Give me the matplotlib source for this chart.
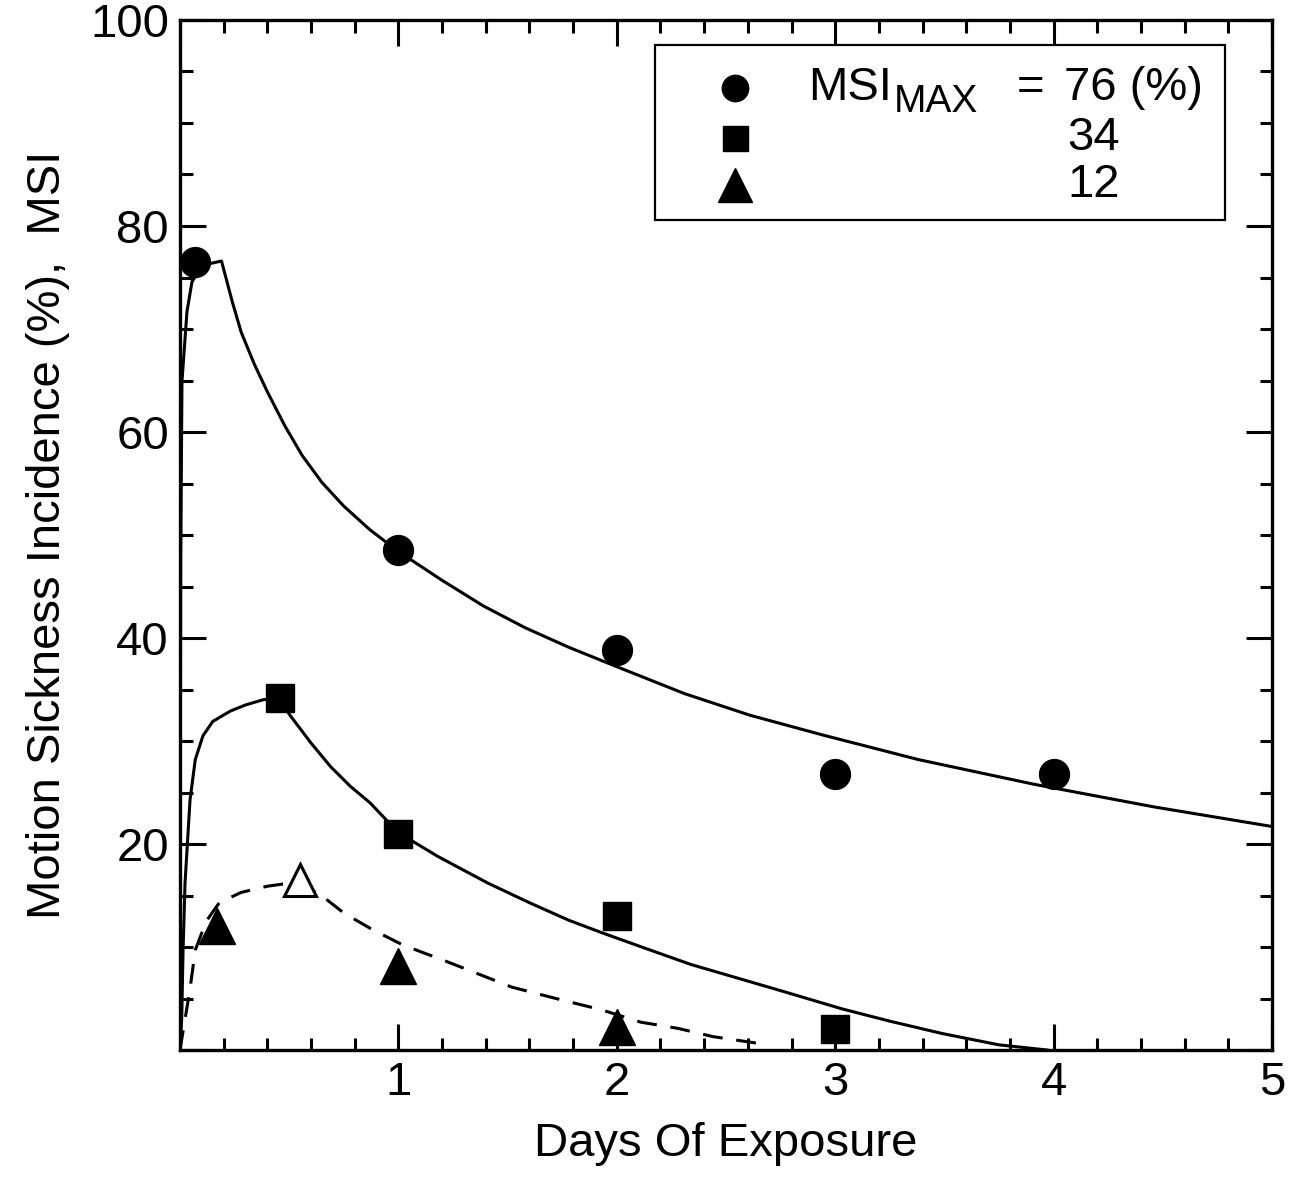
import matplotlib
matplotlib.use("Agg")
import matplotlib.pyplot as plt
from matplotlib.ticker import MultipleLocator, FixedLocator, FixedFormatter
from matplotlib.patches import Rectangle

plt.rcParams['font.family'] = ['Liberation Sans', 'DejaVu Sans']

# ---- data ----
circle_days = [0.07, 1, 2, 3, 4]
circle_msi = [76.5, 48.5, 38.8, 26.8, 26.8]

square_days = [0.46, 1, 2, 3]
square_msi = [34.2, 21.0, 13.0, 2.0]

tri_days = [0.17, 1, 2]
tri_msi = [12.0, 8.2, 2.2]

open_tri_days = [0.55]
open_tri_msi = [16.5]

# fitted curves
curve76_x = [0.0, 0.003, 0.009, 0.032, 0.055, 0.105, 0.19, 0.24, 0.28, 0.34, 0.40, 0.48, 0.56,
             0.65, 0.75, 0.87, 1.0, 1.2, 1.39, 1.58, 1.78, 1.99, 2.31, 2.61, 2.94, 3.38,
             3.91, 4.46, 5.0]
curve76_y = [0.0, 47.0, 64.9, 71.7, 74.6, 76.2, 76.6, 72.6, 69.7, 66.6, 63.9, 60.6, 57.7,
             55.1, 52.8, 50.5, 48.4, 45.6, 43.1, 41.0, 39.1, 37.3, 34.6, 32.5, 30.6, 28.2,
             25.8, 23.6, 21.7]

curve34_x = [0.0, 0.008, 0.014, 0.023, 0.046, 0.07, 0.105, 0.15, 0.23, 0.30, 0.38, 0.46,
             0.5, 0.6, 0.69, 0.78, 0.87, 1.0, 1.18, 1.41, 1.6, 1.78, 1.93, 2.14, 2.34,
             2.55, 2.76, 3.03, 3.25, 3.49, 3.75, 3.97]
curve34_y = [0.0, 3.2, 9.7, 16.2, 24.3, 28.2, 30.5, 31.9, 32.9, 33.5, 34.0, 34.2,
             32.6, 29.8, 27.5, 25.6, 24.0, 21.1, 18.8, 16.2, 14.3, 12.6, 11.4, 9.8, 8.3,
             7.0, 5.7, 4.0, 2.8, 1.6, 0.5, 0.0]

curve12_x = [0.0, 0.01, 0.045, 0.07, 0.12, 0.18, 0.28, 0.40, 0.50, 0.63, 0.75, 0.88, 1.02,
             1.22, 1.52, 1.74, 1.93, 2.11, 2.28, 2.44, 2.63, 2.67]
curve12_y = [0.0, 1.3, 5.8, 9.7, 12.5, 14.3, 15.3, 15.9, 16.2, 15.3, 13.3, 11.7, 10.2,
             8.6, 6.1, 4.9, 3.9, 2.7, 2.1, 1.3, 0.7, 0.6]

x_major = [0, 1, 2, 3, 4, 5]
x_labels = ['', '1', '2', '3', '4', '5']
y_major = [0, 20, 40, 60, 80, 100]
y_labels = ['', '20', '40', '60', '80', '100']

legend_values = ['76 (%)', '34', '12']

# ---- figure ----
fs = 34
fig = plt.figure(figsize=(13.03, 11.77), dpi=100)
ax = fig.add_axes([180/1303, 127/1177, 1092/1303, 1030/1177])

lw = 2.2
ax.plot(curve76_x, curve76_y, color='black', lw=lw, zorder=2, solid_joinstyle='round')
ax.plot(curve34_x, curve34_y, color='black', lw=lw, zorder=2, solid_joinstyle='round')
ax.plot(curve12_x, curve12_y, color='black', lw=lw, zorder=2, linestyle=(0, (6.5, 4.5)))

ax.plot(circle_days, circle_msi, 'o', color='black', markersize=21.5, zorder=3, clip_on=False)
ax.plot(square_days, square_msi, 's', color='black', markersize=20, zorder=3, clip_on=False)
ax.plot(tri_days, tri_msi, '^', color='black', markersize=26, zorder=3, clip_on=False)
ax.plot(open_tri_days, open_tri_msi, '^', markerfacecolor='white', markeredgecolor='black',
        markeredgewidth=2.2, markersize=23, zorder=3, clip_on=False)

ax.set_xlim(0, 5)
ax.set_ylim(0, 100)
ax.xaxis.set_major_locator(FixedLocator(x_major))
ax.xaxis.set_major_formatter(FixedFormatter(x_labels))
ax.xaxis.set_minor_locator(MultipleLocator(0.2))
ax.yaxis.set_major_locator(FixedLocator(y_major))
ax.yaxis.set_major_formatter(FixedFormatter(y_labels))
ax.yaxis.set_minor_locator(MultipleLocator(5))

ax.tick_params(which='both', direction='in', top=True, right=True, width=2.2)
ax.tick_params(which='major', length=19, labelsize=fs, pad=8)
ax.tick_params(which='minor', length=9)
for s in ax.spines.values():
    s.set_linewidth(2.4)

ax.set_xlabel('Days Of Exposure', fontsize=fs, labelpad=12)
ax.set_ylabel('Motion Sickness Incidence (%),  MSI', fontsize=fs, labelpad=14)

# legend box (drawn in axes coordinates)
box = Rectangle((0.435, 0.806), 0.522, 0.170, transform=ax.transAxes,
                facecolor='white', edgecolor='black', lw=1.6, zorder=4)
ax.add_patch(box)
leg_y = [0.934, 0.885, 0.840]
ax.plot([0.508], [leg_y[0]], 'o', color='black', markersize=19, transform=ax.transAxes, zorder=5)
ax.plot([0.508], [leg_y[1]], 's', color='black', markersize=18, transform=ax.transAxes, zorder=5)
ax.plot([0.508], [leg_y[2]], '^', color='black', markersize=24, transform=ax.transAxes, zorder=5)
ax.text(0.575, leg_y[0], 'MSI', fontsize=fs, transform=ax.transAxes,
        ha='left', va='center', zorder=6)
ax.text(0.654, leg_y[0] - 0.014, 'MAX', fontsize=28, transform=ax.transAxes,
        ha='left', va='center', zorder=6)
ax.text(0.766, leg_y[0], '=', fontsize=fs, transform=ax.transAxes,
        ha='left', va='center', zorder=6)
ax.text(0.937, leg_y[0], legend_values[0], fontsize=fs, transform=ax.transAxes,
        ha='right', va='center', zorder=6)
ax.text(0.861, leg_y[1], legend_values[1], fontsize=fs, transform=ax.transAxes,
        ha='right', va='center', zorder=6)
ax.text(0.861, leg_y[2], legend_values[2], fontsize=fs, transform=ax.transAxes,
        ha='right', va='center', zorder=6)

fig.savefig('out.png', dpi=100)
